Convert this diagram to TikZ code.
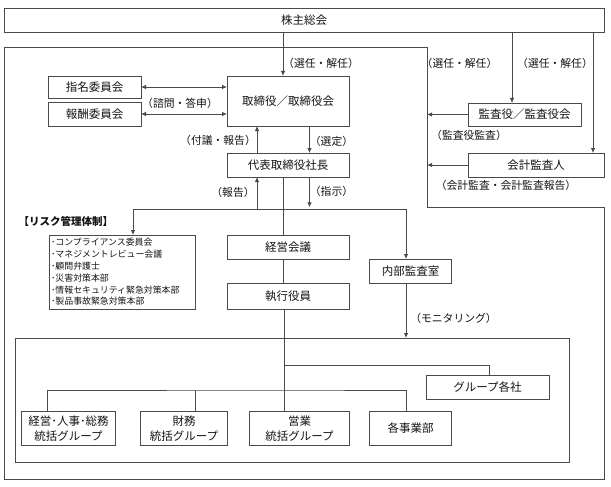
\documentclass[tikz,border=0pt]{standalone}
\usepackage{fontspec}
\setmainfont{Noto Sans CJK JP}
\usetikzlibrary{arrows.meta}
\definecolor{lc}{HTML}{4A4A4A}
\definecolor{tc}{HTML}{141414}
\begin{document}
\begin{tikzpicture}[x=1pt,y=-1pt,
  every node/.style={inner sep=0pt, outer sep=0pt, text=tc},
  box/.style={draw=lc, line width=0.8pt, fill=white, align=center,
    font=\fontsize{11.5}{14.3}\selectfont},
  lbl/.style={font=\fontsize{10.8}{12}\selectfont},
  ln/.style={draw=lc, line width=0.8pt},
  arr/.style={ln, -{Latex[length=5pt,width=4.5pt]}},
  darr/.style={ln, {Latex[length=5pt,width=4.5pt]}-{Latex[length=5pt,width=4.5pt]}},
]
\path[use as bounding box, fill=white] (0,0) rectangle (611,487);

% outer frame
\draw[ln] (4,47) -- (427,47) -- (427,207) -- (604,207) -- (604,479) -- (4,479) -- cycle;

% nodes
\node[box, minimum width=600pt, minimum height=24pt] (kabu) at (304,20.5) {株主総会};
\node[box, minimum width=122pt, minimum height=50pt] (tori) at (288,101) {取締役／取締役会};
\node[box, minimum width=93pt, minimum height=22pt] (shimei) at (94.5,87) {指名委員会};
\node[box, minimum width=93pt, minimum height=24pt] (houshu) at (94.5,114) {報酬委員会};
\node[box, minimum width=122pt, minimum height=24pt] (daihyo) at (288,165) {代表取締役社長};
\node[box, minimum width=113pt, minimum height=23pt] (kansa) at (524.5,114.5) {監査役／監査役会};
\node[box, minimum width=136pt, minimum height=24pt] (kaikei) at (536,165) {会計監査人};
\node[box, minimum width=146pt, minimum height=74pt, text width=142pt, align=left,
  font=\fontsize{8.9}{11.8}\selectfont] (risk) at (122,272)
  {･コンプライアンス委員会\\･マネジメントレビュー会議\\･顧問弁護士\\･災害対策本部\\･情報セキュリティ緊急対策本部\\･製品事故緊急対策本部};
\node[box, minimum width=122pt, minimum height=24pt] (kaigi) at (288,247) {経営会議};
\node[box, minimum width=122pt, minimum height=26pt] (shikkou) at (288,296) {執行役員};
\node[box, minimum width=82pt, minimum height=24pt] (naibu) at (410.5,271) {内部監査室};
\node[draw=lc, line width=0.8pt, minimum width=554pt, minimum height=124pt] (inner) at (292,400) {};
\node[box, minimum width=123pt, minimum height=24pt] (group) at (487.5,387) {グループ各社};
\node[box, minimum width=94pt, minimum height=34pt] (g1) at (68.5,428.5) {経営･人事･総務\\統括グループ};
\node[box, minimum width=87pt, minimum height=34pt] (g2) at (184,428.5) {財務\\統括グループ};
\node[box, minimum width=100pt, minimum height=34pt] (g3) at (299.5,428.5) {営業\\統括グループ};
\node[box, minimum width=82pt, minimum height=34pt] (g4) at (410.5,428.5) {各事業部};

% connectors
\draw[arr] (kabu.south -| 283,0) -- (tori.north -| 283,0);
\draw[arr] (kabu.south -| 512,0) -- (kansa.north -| 512,0);
\draw[arr] (kabu.south -| 593,0) -- (kaikei.north -| 593,0);
\draw[arr] (kansa.west) -- (kansa.west -| 427,0);
\draw[arr] (kaikei.west) -- (kaikei.west -| 427,0);
\draw[darr] (shimei.east) -- (shimei.east -| tori.west);
\draw[darr] (houshu.east) -- (houshu.east -| tori.west);
\draw[arr] (daihyo.north -| 257,0) -- (tori.south -| 257,0);
\draw[arr] (tori.south -| 309.5,0) -- (daihyo.north -| 309.5,0);

\coordinate (hl) at (0,209.3);
\draw[arr] (hl -| 257,0) -- (daihyo.south -| 257,0);
\draw[arr] (daihyo.south -| 309.5,0) -- ([yshift=2pt]hl -| 309.5,0);
\draw[ln] (daihyo.south -| 283,0) -- (kaigi.north -| 283,0);
\draw[ln] (kaigi.south -| 283.5,0) -- (shikkou.north -| 283.5,0);
\draw[darr] (risk.north -| 133,0) -- (hl -| 133,0) -- (hl -| 406,0) -- (naibu.north -| 406,0);
\draw[arr] (naibu.south -| 406,0) -- (inner.north -| 406,0);

\draw[ln] (shikkou.south -| 284,0) -- (g3.north -| 284,0);
\coordinate (b1) at (284,365);
\coordinate (b2) at (284,390);
\draw[ln] (b1) -| (group.north -| 489,0);
\draw[ln] (g1.north -| 47.7,0) |- (b2) -| (g4.north -| 406.5,0);
\draw[ln] (g2.north -| 195,0) -- (b2 -| 195,0);

% labels
\node[lbl] (l1) at (321,63) {（選任・解任）};
\node[lbl] (l2) at (459.5,63) {（選任・解任）};
\node[lbl] (l3) at (555,63) {（選任・解任）};
\node[lbl] (l4) at (180,103.3) {（諮問・答申）};
\node[lbl] (l5) at (218,140) {（付議・報告）};
\node[lbl] (l6) at (331.5,141.7) {（選定）};
\node[lbl] (l7) at (233,192) {（報告）};
\node[lbl] (l8) at (331.5,191.7) {（指示）};
\node[lbl] (l9) at (469,135) {（監査役監査）};
\node[lbl] (l10) at (506,185.5) {（会計監査・会計監査報告）};
\node[lbl, font=\fontsize{10.5}{12}\selectfont\bfseries] (l11) at (66,221) {【リスク管理体制】};
\node[lbl] (l12) at (453.5,318) {（モニタリング）};
\end{tikzpicture}
\end{document}
